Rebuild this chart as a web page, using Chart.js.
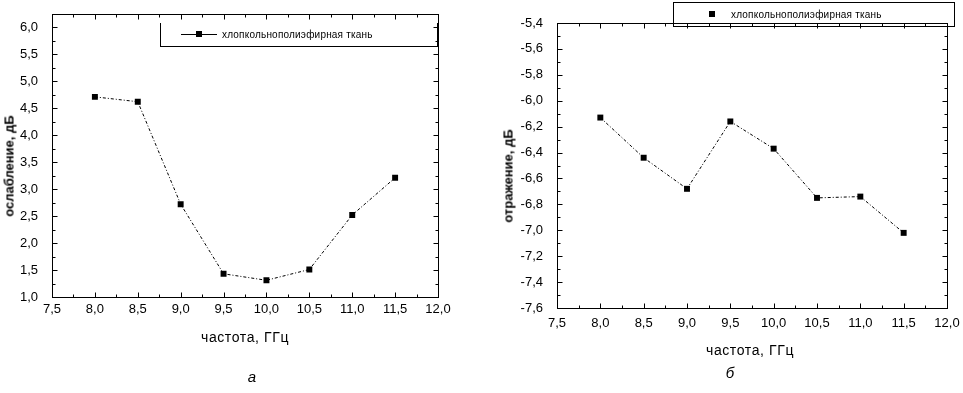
<!DOCTYPE html>
<html>
<head>
<meta charset="utf-8">
<script src="https://cdn.jsdelivr.net/npm/chart.js@4.4.1/dist/chart.umd.min.js"></script>
<style>
    body { margin: 0; background: #fff; width: 963px; height: 393px; overflow: hidden; position: relative;
           font-family: "Liberation Sans", Arial, sans-serif; color: #000; }
    canvas { position: absolute; top: 0; }
    .ytitle { position: absolute; white-space: nowrap; font-size: 13px; font-weight: bold;
              transform: translate(-50%, -50%) rotate(-90deg); }
    .xtitle { position: absolute; white-space: nowrap; font-size: 14px; letter-spacing: 0.6px;
              transform: translate(-50%, -50%); }
    .caption { position: absolute; font-size: 15px; font-style: italic; transform: translate(-50%, -50%); }
    .legend { position: absolute; box-sizing: border-box; border: 1px solid #000; }
    .legend .line { position: absolute; height: 0; border-top: 1px solid #000; }
    .legend .mark { position: absolute; width: 6px; height: 6px; background: #000; }
    .legend .text { position: absolute; font-size: 10px; letter-spacing: 0.2px; white-space: nowrap; transform: translateY(-50%); }
</style>
</head>
<body>
<canvas id="chartA" width="480" height="393" style="left:0"></canvas>
<canvas id="chartB" width="473" height="393" style="left:490px"></canvas>

<div class="ytitle" id="ytitleA" style="left:9px; top:166px"></div>
<div class="ytitle" id="ytitleB" style="left:508px; top:176px"></div>
<div class="xtitle" id="xtitleA" style="left:245px; top:337px"></div>
<div class="xtitle" id="xtitleB" style="left:750px; top:350px"></div>
<div class="caption" style="left:252px; top:376px">а</div>
<div class="caption" style="left:730px; top:372px">б</div>

<div class="legend" id="legendA" style="left:160px; top:23px; width:278px; height:24px; border-top:none">
    <div class="line" style="left:20px; top:11px; width:36px"></div>
    <div class="mark" style="left:35px; top:8px"></div>
    <div class="text" style="left:61px; top:11px"></div>
</div>
<div class="legend" id="legendB" style="left:673px; top:2px; width:282px; height:25px">
    <div class="mark" style="left:35px; top:8px"></div>
    <div class="text" style="left:57px; top:11px"></div>
</div>

<script>
// data
var freq = [8.0, 8.5, 9.0, 9.5, 10.0, 10.5, 11.0, 11.5];
var attenuation = [4.71, 4.62, 2.72, 1.43, 1.31, 1.51, 2.52, 3.21];
var reflection = [-6.13, -6.44, -6.68, -6.16, -6.37, -6.75, -6.74, -7.02];

var xTicks = [7.5, 8.0, 8.5, 9.0, 9.5, 10.0, 10.5, 11.0, 11.5, 12.0];
var yTicksA = [1.0, 1.5, 2.0, 2.5, 3.0, 3.5, 4.0, 4.5, 5.0, 5.5, 6.0];
var yTicksB = [-7.6, -7.4, -7.2, -7.0, -6.8, -6.6, -6.4, -6.2, -6.0, -5.8, -5.6, -5.4];

var seriesLabel = 'хлопкольнополиэфирная ткань';
var xTitle = 'частота, ГГц';
var yTitleA = 'ослабление, дБ';
var yTitleB = 'отражение, дБ';

document.getElementById('ytitleA').textContent = yTitleA;
document.getElementById('ytitleB').textContent = yTitleB;
document.getElementById('xtitleA').textContent = xTitle;
document.getElementById('xtitleB').textContent = xTitle;
document.querySelector('#legendA .text').textContent = seriesLabel;
document.querySelector('#legendB .text').textContent = seriesLabel;

function comma(v) {
    return v.toFixed(1).replace('.', ',');
}

// frame on all four sides with inward major and minor ticks
var frameTicks = {
    id: 'frameTicks',
    afterDatasetsDraw(chart) {
        var ctx = chart.ctx, a = chart.chartArea;
        var L = Math.round(a.left) + 0.5, R = Math.round(a.right) + 0.5;
        var T = Math.round(a.top) + 0.5, B = Math.round(a.bottom) + 0.5;
        ctx.save();
        ctx.strokeStyle = '#000';
        ctx.lineWidth = 1;
        ctx.strokeRect(L, T, R - L, B - T);
        ctx.beginPath();
        ['x', 'y'].forEach(function(id) {
            var scale = chart.scales[id];
            var vals = scale.ticks.map(function(t) { return t.value; });
            var marks = vals.map(function(v) { return [v, 5]; });
            for (var i = 0; i < vals.length - 1; i++) marks.push([(vals[i] + vals[i + 1]) / 2, 3]);
            marks.forEach(function(m) {
                var p = Math.round(scale.getPixelForValue(m[0])) + 0.5;
                if (id === 'x') {
                    ctx.moveTo(p, B); ctx.lineTo(p, B - m[1]);
                    ctx.moveTo(p, T); ctx.lineTo(p, T + m[1]);
                } else {
                    ctx.moveTo(L, p); ctx.lineTo(L + m[1], p);
                    ctx.moveTo(R, p); ctx.lineTo(R - m[1], p);
                }
            });
        });
        ctx.stroke();
        ctx.restore();
    }
};

function makeChart(canvas, values, yTicks, yMin, yMax, area, xPad) {
    var points = freq.map(function(f, i) { return { x: f, y: values[i] }; });
    return new Chart(canvas.getContext('2d'), {
        type: 'line',
        data: {
            datasets: [{
                label: seriesLabel,
                data: points,
                borderColor: '#000',
                borderWidth: 1,
                borderDash: [3, 2, 1, 2],
                backgroundColor: '#000',
                pointStyle: 'rect',
                pointRadius: 4.2,
                pointBorderWidth: 0,
                tension: 0,
                fill: false
            }]
        },
        options: {
            responsive: false,
            animation: false,
            devicePixelRatio: 1,
            layout: { padding: { left: 0, top: area.top, right: canvas.width - area.right, bottom: 0 } },
            plugins: { legend: { display: false }, tooltip: { enabled: false } },
            scales: {
                x: {
                    type: 'linear',
                    min: 7.5,
                    max: 12.0,
                    afterBuildTicks: function(s) { s.ticks = xTicks.map(function(v) { return { value: v }; }); },
                    afterFit: function(s) { s.height = canvas.height - area.bottom; },
                    grid: { display: false },
                    border: { display: false },
                    ticks: {
                        color: '#000',
                        padding: xPad,
                        maxRotation: 0,
                        autoSkip: false,
                        font: { family: '"Liberation Sans", Arial, sans-serif', size: 13 },
                        callback: comma
                    }
                },
                y: {
                    type: 'linear',
                    min: yMin,
                    max: yMax,
                    afterBuildTicks: function(s) { s.ticks = yTicks.map(function(v) { return { value: v }; }); },
                    afterFit: function(s) { s.width = area.left; },
                    grid: { display: false },
                    border: { display: false },
                    ticks: {
                        color: '#000',
                        padding: 6,
                        autoSkip: false,
                        font: { family: '"Liberation Sans", Arial, sans-serif', size: 13 },
                        callback: comma
                    }
                }
            }
        },
        plugins: [frameTicks]
    });
}

makeChart(document.getElementById('chartA'), attenuation, yTicksA, 1.0, 6.25,
    { left: 52, top: 12, right: 438, bottom: 297 }, -3);
makeChart(document.getElementById('chartB'), reflection, yTicksB, -7.6, -5.4,
    { left: 67, top: 23, right: 457, bottom: 308 }, 0);
</script>
</body>
</html>
